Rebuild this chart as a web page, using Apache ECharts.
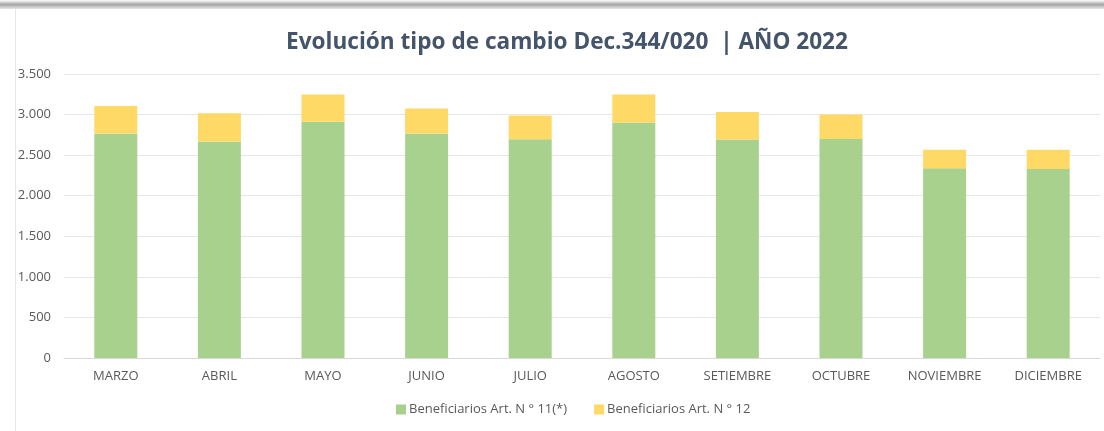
<!DOCTYPE html>
<html>
<head>
<meta charset="utf-8">
<script src="https://cdn.jsdelivr.net/npm/echarts@6/dist/echarts.min.js"></script>
<style>
html,body{margin:0;padding:0;background:#fff;}
#c{width:1104px;height:431px;}
</style>
</head>
<body>
<div id="c"></div>
<script>
const categories = ["MARZO","ABRIL","MAYO","JUNIO","JULIO","AGOSTO","SETIEMBRE","OCTUBRE","NOVIEMBRE","DICIEMBRE"];
const art11 = [2766, 2667, 2910, 2766, 2696, 2901, 2692, 2700, 2339, 2330];
const art12 = [341, 350, 337, 308, 292, 346, 341, 300, 226, 235];
const seriesNames = ["Beneficiarios Art. N ° 11(*)", "Beneficiarios Art. N ° 12"];
const titleText = "Evolución tipo de cambio Dec.344/020  | AÑO 2022";

const chart = echarts.init(document.getElementById('c'), null, {renderer:'canvas'});
chart.setOption({
  animation:false,
  backgroundColor:'#ffffff',
  graphic:[
    {type:'rect', left:0, top:0, shape:{width:1104, height:9},
     style:{fill:new echarts.graphic.LinearGradient(0,0,0,1,[{offset:0,color:'#ffffff'},{offset:0.5,color:'#a6a6a6'},{offset:1,color:'#e6e6e6'}])}, silent:true},
    {type:'rect', left:15, top:9, shape:{width:1, height:422}, style:{fill:'#e3e7ee'}, silent:true}
  ],
  title:{
    text:titleText, left:562, top:26, textAlign:'center',
    textStyle:{fontFamily:'Open Sans', fontWeight:'bold', fontSize:22.6, color:'#44546a'}
  },
  legend:{
    data:seriesNames, bottom:10, left:391, itemWidth:10, itemHeight:10, itemGap:27,
    icon:'rect',
    textStyle:{fontFamily:'Open Sans', fontSize:13, color:'#595959', padding:[0,0,0,-2]}
  },
  grid:{left:64, right:4, top:74, bottom:73, containLabel:false},
  xAxis:{
    type:'category', data:categories,
    axisLine:{lineStyle:{color:'#d9d9d9', width:1}},
    axisTick:{show:false},
    axisLabel:{fontFamily:'Open Sans', fontSize:13, color:'#595959', margin:12}
  },
  yAxis:{
    type:'value', min:0, max:3500, interval:500,
    axisLine:{show:false}, axisTick:{show:false},
    splitLine:{lineStyle:{color:'#e4e6ea', width:1}},
    axisLabel:{fontFamily:'Open Sans', fontSize:13, color:'#595959', margin:13,
      formatter:v=>v.toString().replace(/\B(?=(\d{3})+(?!\d))/g,'.')}
  },
  series:[
    {name:seriesNames[0], type:'bar', stack:'a', data:art11, barWidth:'41.5%', itemStyle:{color:'#a9d18e'}},
    {name:seriesNames[1], type:'bar', stack:'a', data:art12, barWidth:'41.5%', itemStyle:{color:'#ffd966'}}
  ]
});
</script>
</body>
</html>
